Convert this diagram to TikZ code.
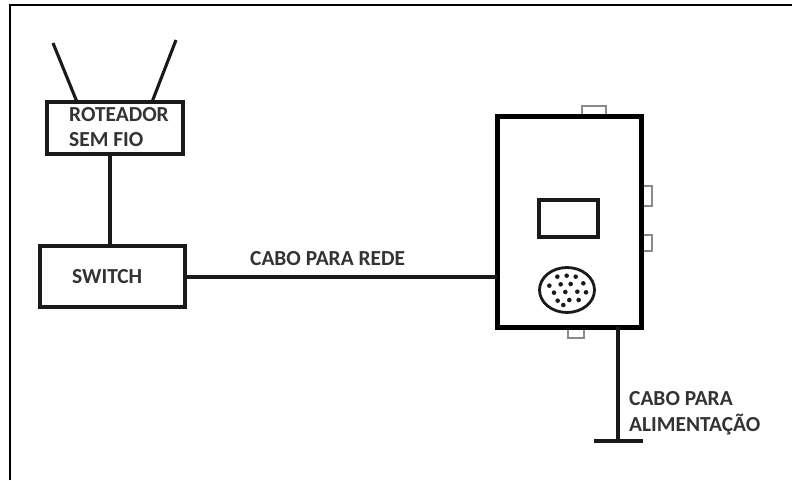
\documentclass[tikz,border=0pt]{standalone}
\usepackage{fontspec}
\setmainfont{Carlito}
\usetikzlibrary{shapes.geometric}
\definecolor{ink}{HTML}{1A1A1A}
\definecolor{labelink}{HTML}{333333}
\definecolor{tabgray}{HTML}{8A8A8A}
\tikzset{
  x=1pt,y=-1pt,
  netbox/.style={draw=ink,line width=3.4pt,rectangle,inner sep=0pt,outer sep=0pt,anchor=north west},
  devicebox/.style={draw=black,line width=5pt,rectangle,inner sep=0pt,outer sep=0pt,anchor=north west},
  screenbox/.style={draw=ink,line width=3.4pt,rectangle,inner sep=0pt,outer sep=0pt,anchor=north west},
  tabbox/.style={draw=tabgray,line width=1.3pt,rectangle,inner sep=0pt,outer sep=0pt,anchor=north west},
  wire/.style={draw=ink,line width=3.1pt},
  lbl/.style={text=labelink,font=\bfseries\fontsize{21.4}{24}\selectfont,inner sep=0pt,anchor=base west},
  pin/.style={circle,fill=ink,inner sep=0pt,outer sep=0pt,minimum size=4.6pt},
}
\begin{document}
\begin{tikzpicture}
\useasboundingbox (0,0) rectangle (792,480);
\fill[white] (0,0) rectangle (792,480);
% outer frame
\coordinate (fbl) at (9.8,480);
\coordinate (ftl) at (9.8,5.2);
\coordinate (ftr) at (792,5.2);
\draw[black,line width=2.2pt] (fbl) -- (ftl) -- (ftr);
% router
\node[netbox,minimum width=136pt,minimum height=52pt] (router) at (47,102) {};
\coordinate (ant1) at (53,43);
\coordinate (ant1b) at (77,102);
\coordinate (ant2) at (176,40);
\coordinate (ant2b) at (152,102);
\draw[wire] (ant1) -- (ant1b);
\draw[wire] (ant2) -- (ant2b);
\node[lbl] (rtxt) at (69,121) {ROTEADOR};
\node[lbl] (stxt) at (69,146) {SEM FIO};
% switch
\node[netbox,minimum width=145pt,minimum height=61pt] (switch) at (40,246) {};
\node[lbl] (swtxt) at (72,283) {SWITCH};
\coordinate (tap) at (110,200);
\draw[wire] (router.south -| tap) -- (switch.north -| tap);
% device tabs
\node[tabbox,minimum width=24pt,minimum height=9pt] (tabtop) at (582,106) {};
\node[tabbox,minimum width=9pt,minimum height=20pt] (tabr1) at (643,186) {};
\node[tabbox,minimum width=9pt,minimum height=16pt] (tabr2) at (643,235) {};
\node[tabbox,minimum width=16pt,minimum height=9pt] (tabbot) at (568,329) {};
% device
\node[devicebox,fill=white,minimum width=144pt,minimum height=211pt] (device) at (497,116) {};
\node[screenbox,minimum width=59pt,minimum height=37pt] (screen) at (539,200) {};
\node[ellipse,draw=ink,line width=2.8pt,inner sep=0pt,outer sep=0pt,minimum width=55pt,minimum height=45pt] (grid) at (567,290) {};
\foreach \px/\py [count=\i] in {82/50,110/47,137/50,58/77,92/73,122/72,160/70,72/98,106/96,142/95,168/97,83/122,118/120,146/120,100/135}
  \node[pin] (p\i) at ({530+\px/3},{260+\py/3}) {};
% network cable
\draw[wire] (switch.east |- 0,277) -- (device.west |- 0,277);
\node[lbl] (cr) at (250,265.5) {CABO PARA REDE};
% power cable
\coordinate (ground) at (618,441);
\coordinate (gl) at (594,441);
\coordinate (gr) at (643,441);
\draw[wire] (device.south -| ground) -- (ground);
\draw[draw=ink,line width=3.6pt] (gl) -- (gr);
\node[lbl] (ca) at (629,405) {CABO PARA};
\node[lbl] (al) at (629,431) {ALIMENTAÇÃO};
\end{tikzpicture}
\end{document}
